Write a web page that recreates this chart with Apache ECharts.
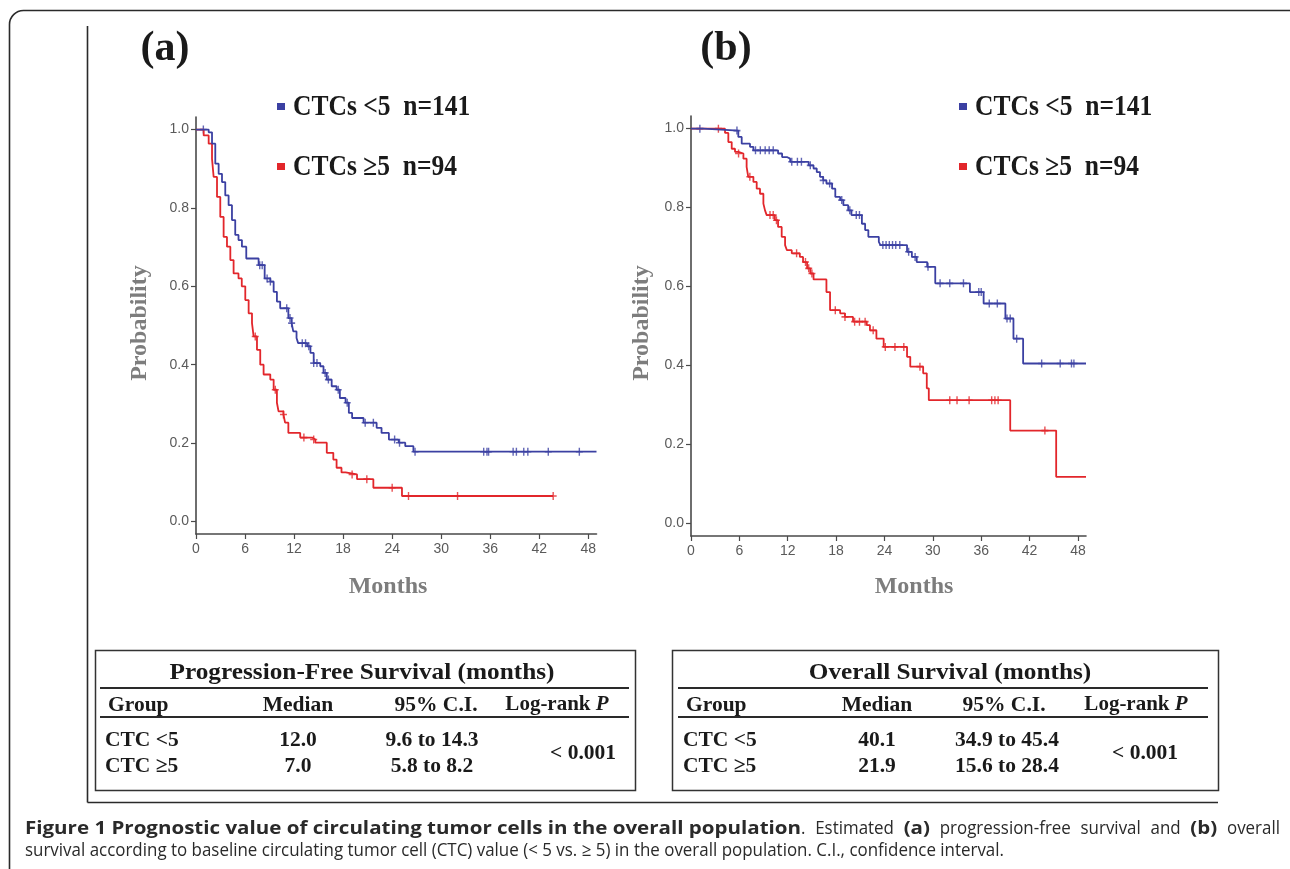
<!DOCTYPE html>
<html><head><meta charset="utf-8">
<script src="https://cdn.jsdelivr.net/npm/echarts@6/dist/echarts.min.js"></script>
<style>html,body{margin:0;padding:0;background:#fff}#c{width:1290px;height:869px}</style>
</head><body><div id="c"></div>
<script>
// ---- data ----
const monthTicks = [0, 6, 12, 18, 24, 30, 36, 42, 48];
const probTicks = [0, 0.2, 0.4, 0.6, 0.8, 1.0];

// (a) progression-free survival, CTCs <5 : [month, probability after step]
const pfsLow = [[0,1],[1.55,0.993],[1.96,0.964],[2.36,0.913],[2.77,0.887],[3.18,0.866],[3.58,0.832],[3.99,0.807],[4.4,0.769],[4.8,0.731],[5.2,0.718],[5.62,0.701],[6.15,0.671],[7.66,0.654],[8.4,0.62],[9.1,0.612],[9.5,0.586],[9.9,0.561],[10.3,0.544],[11.3,0.519],[11.7,0.506],[11.9,0.485],[12.3,0.468],[12.5,0.455],[13.6,0.447],[14.0,0.43],[14.4,0.404],[15.2,0.396],[15.6,0.379],[16.0,0.362],[16.6,0.345],[17.2,0.336],[17.6,0.315],[18.3,0.303],[18.7,0.277],[19.1,0.264],[20.5,0.252],[22.1,0.239],[22.7,0.226],[23.6,0.209],[24.8,0.201],[25.6,0.192],[26.6,0.178],[49,0.178]];
const pfsLowCensor = [0.9,7.8,8.1,8.7,9.1,11.1,11.5,11.7,13.0,13.4,13.8,14.4,14.8,15.8,16.2,17.4,18.5,20.7,21.7,24.3,24.9,26.8,35.2,35.6,35.8,38.8,39.2,40.1,40.6,43.1,46.9];
// (a) progression-free survival, CTCs >=5
const pfsHigh = [[0,1],[0.94,0.985],[1.55,0.964],[1.96,0.925],[2.16,0.879],[2.57,0.828],[2.97,0.777],[3.38,0.726],[3.79,0.701],[4.2,0.667],[4.6,0.633],[5.2,0.62],[5.6,0.6],[6.03,0.565],[6.44,0.531],[6.85,0.506],[7.05,0.472],[7.46,0.438],[7.86,0.4],[8.27,0.375],[9.09,0.362],[9.5,0.336],[9.9,0.303],[10.1,0.281],[10.7,0.273],[10.9,0.252],[11.3,0.226],[12.75,0.214],[14.2,0.209],[14.6,0.201],[16.0,0.175],[16.8,0.158],[17.2,0.137],[17.8,0.125],[18.3,0.12],[19.7,0.108],[21.7,0.086],[25.2,0.065],[43.7,0.065]];
const pfsHighCensor = [7.25,9.7,10.7,13.2,14.4,19.1,20.9,24.0,26.0,32.0,43.7];

// (b) overall survival, CTCs <5
const osLow = [[0,1],[1.53,0.995],[5.87,0.979],[6.29,0.962],[7.32,0.954],[7.74,0.945],[10.8,0.937],[11.3,0.928],[11.9,0.924],[12.3,0.916],[14.6,0.907],[15.2,0.899],[15.6,0.89],[16.0,0.878],[16.4,0.869],[16.8,0.861],[17.5,0.848],[17.9,0.827],[18.5,0.819],[18.9,0.806],[19.5,0.793],[19.9,0.781],[21.2,0.759],[21.6,0.743],[22.0,0.726],[23.3,0.713],[23.5,0.705],[26.8,0.688],[27.4,0.675],[28.0,0.662],[29.3,0.65],[30.3,0.608],[34.6,0.586],[36.3,0.557],[39.0,0.519],[40.0,0.468],[41.2,0.405],[49,0.405]];
const osLowCensor = [1.1,5.7,8.0,8.6,9.2,9.7,10.2,12.5,13.2,13.7,14.8,16.4,17.2,18.7,19.7,20.5,20.9,23.8,24.2,24.6,25.0,25.4,25.9,27.0,27.8,29.4,30.9,32.1,33.8,35.7,36.0,37.0,38.0,39.2,39.6,40.4,43.5,45.8,47.2,47.5];
// (b) overall survival, CTCs >=5
const osHigh = [[0,1],[4.22,0.989],[4.63,0.966],[5.05,0.949],[5.46,0.941],[5.88,0.937],[6.5,0.924],[6.9,0.903],[7.1,0.878],[7.74,0.865],[8.15,0.848],[8.56,0.835],[8.98,0.81],[9.18,0.793],[9.39,0.781],[10.4,0.768],[10.8,0.751],[11.25,0.726],[11.67,0.705],[11.9,0.692],[12.5,0.684],[13.5,0.675],[13.9,0.662],[14.4,0.646],[14.8,0.633],[15.2,0.618],[16.8,0.586],[17.25,0.54],[18.5,0.532],[19.1,0.523],[20.1,0.511],[21.8,0.502],[22.2,0.489],[23.0,0.468],[23.9,0.447],[26.8,0.422],[27.2,0.397],[28.8,0.38],[29.25,0.342],[29.5,0.312],[39.6,0.235],[45.3,0.118],[49,0.118]];
const osHighCensor = [3.4,5.9,7.3,9.8,10.2,10.6,13.1,14.2,14.6,15.0,17.9,19.1,20.3,20.9,21.6,22.6,24.1,25.3,26.4,28.4,32.1,33.0,34.5,37.3,37.7,38.1,43.9];

// legend / table text
const groupNames = ['CTCs <5  n=141', 'CTCs \u22655  n=94'];
const panelLabels = ['(a)', '(b)'];
const tableTitles = ['Progression-Free Survival (months)', 'Overall Survival (months)'];
const tableHeader = ['Group', 'Median', '95% C.I.', 'Log-rank P'];
const rowGroups = ['CTC <5', 'CTC \u22655'];
const pfsMedians = ['12.0', '7.0'];
const pfsCI = ['9.6 to 14.3', '5.8 to 8.2'];
const osMedians = ['40.1', '21.9'];
const osCI = ['34.9 to 45.4', '15.6 to 28.4'];
const logRankP = ['< 0.001', '< 0.001'];
const cap1 = [
  ['b', 'Figure 1 Prognostic value of circulating tumor cells in the overall population'],
  ['n', '. Estimated '], ['b', '(a)'], ['n', ' progression-free survival and '], ['b', '(b)'], ['n', ' overall']
];
const cap2 = 'survival according to baseline circulating tumor cell (CTC) value (< 5 vs. \u2265 5) in the overall population. C.I., confidence interval.';

// ---- helpers ----
function stepAt(curve, t) {
  let v = curve[0][1];
  for (const p of curve) { if (p[0] <= t) v = p[1]; else break; }
  return v;
}
function censorPoints(curve, times) { return times.map(t => [t, stepAt(curve, t)]); }

const BLUE = '#3b40a2', RED = '#e2262b', AX = '#4a4a4a';
const plusPath = 'path://M4,0H6V4H10V6H6V10H4V6H0V4H4Z';
const serif = '"Liberation Serif", "Times New Roman", serif';

function xAx(gi) {
  return {
    type: 'value', gridIndex: gi, min: 0, max: 49,
    axisLine: { show: true, onZero: false, lineStyle: { color: AX, width: 1.6 } },
    axisTick: { show: true, customValues: monthTicks, length: 5, lineStyle: { color: AX, width: 1.2 } },
    axisLabel: { customValues: monthTicks, color: '#5a5a5a', fontSize: 14, fontFamily: '"Liberation Sans", Arial', margin: 8 },
    splitLine: { show: false }
  };
}
function yAx(gi) {
  return {
    type: 'value', gridIndex: gi, min: -0.032, max: 1.032,
    axisLine: { show: true, onZero: false, lineStyle: { color: AX, width: 1.6 } },
    axisTick: { show: true, customValues: probTicks, length: 5, lineStyle: { color: AX, width: 1.2 } },
    axisLabel: { customValues: probTicks, formatter: v => v.toFixed(1), color: '#5a5a5a', fontSize: 14, fontFamily: '"Liberation Sans", Arial', margin: 7 },
    splitLine: { show: false }
  };
}
function km(gi, data, color) {
  return { type: 'line', xAxisIndex: gi, yAxisIndex: gi, data, step: 'end', showSymbol: false, silent: true,
    lineStyle: { color, width: 1.8 }, animation: false };
}
function cens(gi, data, color) {
  return { type: 'scatter', xAxisIndex: gi, yAxisIndex: gi, data, symbol: plusPath, symbolSize: [7, 8],
    itemStyle: { color }, silent: true, animation: false };
}

// ---- caption layout: wide bold lead-in, condensed body, first line justified ----
const capFont = '"Open Sans", sans-serif';
const capSize = 18;
const capColor = '#2a2a2a';
const capLeft = 25, capRight = 1280, boldEnd = 801, cap2End = 1004;
const mctx = document.createElement('canvas').getContext('2d');
function fontOf(k) { return (k === 'b' ? 'bold ' : '') + capSize + 'px ' + capFont; }
function measure(k, s) { mctx.font = fontOf(k); return mctx.measureText(s).width; }
const sN = (cap2End - capLeft) / measure('n', cap2);
const sB = (boldEnd - capLeft) / measure('b', cap1[0][1]);
const scaleOf = k => (k === 'b' ? sB : sN);
const toks = [];
for (const [k, s] of cap1) {
  s.split(/( )/).forEach(p => { if (p !== '') toks.push({ k, s: p, sp: p === ' ' }); });
}
toks.forEach(t => { t.w = measure(t.k, t.s) * scaleOf(t.k); });
const natural = toks.reduce((a, t) => a + t.w, 0);
const nSp = toks.filter(t => t.sp).length;
const lastIsBoldRun = toks.findIndex(t => t.k === 'n');
const extra = (capRight - capLeft - natural) / Math.max(1, nSp - toks.slice(0, lastIsBoldRun).filter(t => t.sp).length);
const capEls = [];
let cx = capLeft;
toks.forEach((t, i) => {
  if (!t.sp) {
    capEls.push({ type: 'text', x: cx, y: 829, scaleX: scaleOf(t.k), silent: true,
      style: { text: t.s, font: fontOf(t.k), fill: capColor, verticalAlign: 'middle' } });
  }
  cx += t.w + (t.sp && i > lastIsBoldRun ? extra : 0);
});
capEls.push({ type: 'text', x: capLeft, y: 851, scaleX: sN, silent: true,
  style: { text: cap2, font: fontOf('n'), fill: capColor, verticalAlign: 'middle' } });

function txt(x, y, text, size, opt) {
  opt = opt || {};
  return { type: 'text', x, y, scaleX: opt.sx || 1, originX: 0, silent: true,
    style: { text, font: (opt.w || 'bold') + ' ' + size + 'px ' + (opt.f || serif), fill: opt.c || '#1a1a1a',
      align: opt.a || 'left', verticalAlign: 'middle' } };
}
function line(x1, y1, x2, y2, w) {
  return { type: 'line', silent: true, shape: { x1, y1, x2, y2 }, style: { stroke: '#2a2a2a', lineWidth: w || 1.5 } };
}
function rect(x, y, w, h) {
  return { type: 'rect', silent: true, shape: { x, y, width: w, height: h }, style: { fill: 'none', stroke: '#333', lineWidth: 1.5 } };
}
function richLogRank(x, y) {
  return { type: 'text', x, y, silent: true, style: { text: '{b|Log-rank }{i|P}', align: 'center', verticalAlign: 'middle',
    rich: { b: { font: 'bold 21px ' + serif, fill: '#1a1a1a' }, i: { font: 'italic bold 21px ' + serif, fill: '#1a1a1a' } } } };
}

function table(cols, title, titleX, meds, cis, pX, lineL, lineR) {
  const els = [];
  els.push(txt(titleX, 673, title, 23, { a: 'center', sx: 1.1 }));
  els.push(line(lineL, 688, lineR, 688, 2));
  els.push(txt(cols[0], 705, tableHeader[0], 21.5));
  els.push(txt(cols[1], 705, tableHeader[1], 21.5, { a: 'center' }));
  els.push(txt(cols[2], 705, tableHeader[2], 21.5, { a: 'center' }));
  els.push(richLogRank(cols[3], 705));
  els.push(line(lineL, 717, lineR, 717, 2));
  for (let i = 0; i < 2; i++) {
    const y = i === 0 ? 740 : 766;
    els.push(txt(cols[0] - 3, y, rowGroups[i], 21.5));
    els.push(txt(cols[1], y, meds[i], 21.5, { a: 'center' }));
    els.push(txt(cols[4], y, cis[i], 21.5, { a: 'center' }));
  }
  els.push(txt(pX, 753, logRankP[0], 21.5, { a: 'center' }));
  return els;
}

const graphics = [
  { type: 'rect', silent: true, shape: { x: 9.5, y: 10.5, width: 1300, height: 900, r: 14 }, style: { fill: 'none', stroke: '#2a2a2a', lineWidth: 1.6 } },
  line(87.5, 26, 87.5, 802.5, 1.6),
  line(87.5, 802.5, 1218, 802.5, 1.6),
  rect(95.5, 650.5, 540, 140),
  rect(672.5, 650.5, 546, 140),
  txt(165, 49, panelLabels[0], 42, { a: 'center' }),
  txt(726, 49, panelLabels[1], 42, { a: 'center' }),
  { type: 'rect', silent: true, shape: { x: 277, y: 103, width: 8, height: 7 }, style: { fill: BLUE } },
  { type: 'rect', silent: true, shape: { x: 277, y: 163, width: 8, height: 7 }, style: { fill: RED } },
  { type: 'rect', silent: true, shape: { x: 959, y: 103, width: 8, height: 7 }, style: { fill: BLUE } },
  { type: 'rect', silent: true, shape: { x: 959, y: 163, width: 8, height: 7 }, style: { fill: RED } },
  txt(293, 108, groupNames[0], 29, { sx: 0.88 }),
  txt(293, 168, groupNames[1], 29, { sx: 0.88 }),
  txt(975, 108, groupNames[0], 29, { sx: 0.88 }),
  txt(975, 168, groupNames[1], 29, { sx: 0.88 }),
  Object.assign(txt(140, 323, 'Probability', 24, { a: 'center', c: '#7d7d7d' }), { rotation: Math.PI / 2 }),
  Object.assign(txt(642, 323, 'Probability', 24, { a: 'center', c: '#7d7d7d' }), { rotation: Math.PI / 2 }),
  txt(388, 587, 'Months', 24, { a: 'center', c: '#7d7d7d' }),
  txt(914, 587, 'Months', 24, { a: 'center', c: '#7d7d7d' }),
  ...table([108, 298, 436, 557, 432], tableTitles[0], 362, pfsMedians, pfsCI, 583, 100, 629),
  ...table([686, 877, 1004, 1136, 1007], tableTitles[1], 950, osMedians, osCI, 1145, 678, 1208),
  ...capEls
];

const chart = echarts.init(document.getElementById('c'), null, { renderer: 'canvas' });
chart.setOption({
  animation: false,
  backgroundColor: '#fff',
  grid: [
    { left: 196, top: 117, width: 400.5, height: 417 },
    { left: 691, top: 116, width: 395, height: 420 }
  ],
  xAxis: [xAx(0), xAx(1)],
  yAxis: [yAx(0), yAx(1)],
  series: [
    km(0, pfsHigh, RED), km(0, pfsLow, BLUE),
    cens(0, censorPoints(pfsHigh, pfsHighCensor), RED), cens(0, censorPoints(pfsLow, pfsLowCensor), BLUE),
    km(1, osHigh, RED), km(1, osLow, BLUE),
    cens(1, censorPoints(osHigh, osHighCensor), RED), cens(1, censorPoints(osLow, osLowCensor), BLUE)
  ],
  graphic: graphics
});
</script></body></html>
